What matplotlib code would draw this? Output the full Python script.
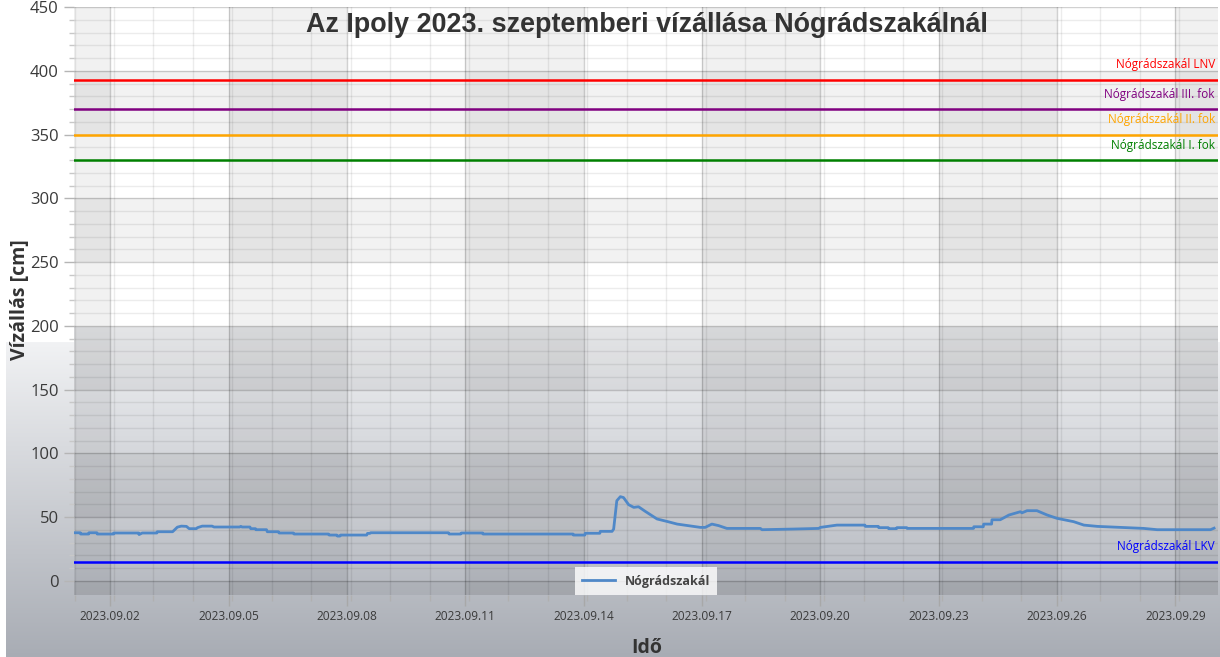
import numpy as np
import pandas as pd
import matplotlib
matplotlib.use('Agg')
import matplotlib.pyplot as plt
import matplotlib.dates as mdates
import matplotlib.transforms as mtransforms

plt.rcParams['font.family'] = ['Open Sans', 'DejaVu Sans']

# --- adatok ---
kezdet = pd.Timestamp('2023-09-01 02:00')
vege = pd.Timestamp('2023-09-30 02:00')

# napok a kezdettől, vízállás [cm]
nap = [0.00, 0.16, 0.17, 0.37, 0.38, 0.58, 0.59, 1.00, 1.01, 1.64, 1.65, 1.73,
       2.10, 2.11, 2.50, 2.62, 2.72, 2.85, 2.92, 3.10, 3.13, 3.25, 3.50, 3.55,
       4.20, 4.23, 4.26, 4.46, 4.48, 4.60, 4.61, 4.88, 4.90, 5.18, 5.20, 5.56,
       5.58, 6.45, 6.47, 6.66, 6.68, 6.74, 6.76, 7.42, 7.44, 7.50, 7.52, 9.49,
       9.51, 9.80, 9.82, 10.36, 10.37, 12.65, 12.66, 12.95, 12.96, 13.33, 13.34,
       13.64, 13.68, 13.76, 13.85, 13.93, 14.06, 14.19, 14.31, 14.48, 14.78,
       15.03, 15.29, 15.88, 16.00, 16.17, 16.34, 16.55, 17.40, 17.44, 18.24,
       18.88, 18.92, 19.34, 20.05, 20.06, 20.39, 20.40, 20.64, 20.65, 20.85,
       20.86, 21.11, 21.12, 22.80, 22.81, 23.05, 23.06, 23.26, 23.27, 23.48,
       23.70, 23.99, 24.03, 24.16, 24.41, 24.67, 24.92, 25.34, 25.60, 25.94,
       26.53, 27.12, 27.46, 28.81, 28.90]
vizallas = [37.8, 37.8, 36.8, 36.8, 37.8, 37.8, 36.8, 36.8, 37.6, 37.6, 36.4, 37.6,
            37.6, 38.6, 38.6, 42.2, 43.0, 42.8, 41.0, 41.0, 41.8, 43.0, 43.0, 42.3,
            42.3, 42.8, 42.3, 42.3, 41.0, 41.0, 40.2, 40.2, 38.6, 38.6, 37.6, 37.6,
            36.8, 36.8, 36.0, 36.0, 35.2, 35.2, 36.0, 36.0, 37.3, 37.3, 37.8, 37.8,
            36.8, 36.8, 37.6, 37.6, 36.8, 36.8, 36.0, 36.0, 37.4, 37.4, 38.9,
            38.9, 40.7, 62.9, 66.1, 65.4, 59.8, 57.7, 58.2, 54.6, 48.6,
            46.7, 44.6, 42.0, 42.0, 44.6, 43.4, 41.2, 41.2, 40.2, 40.7,
            41.2, 42.0, 43.8, 43.8, 42.8, 42.8, 41.8, 41.8, 41.0, 41.0,
            41.8, 41.8, 41.2, 41.2, 42.5, 42.5, 44.6, 44.6, 48.0, 48.0,
            51.7, 54.3, 53.4, 55.1, 55.1, 51.7, 49.1, 46.5, 43.8, 42.8,
            42.0, 41.2, 40.2, 40.2, 41.4]

szint_nevek = ['Nógrádszakál LNV', 'Nógrádszakál III. fok', 'Nógrádszakál II. fok',
               'Nógrádszakál I. fok', 'Nógrádszakál LKV']
szint_ertekek = [393, 370, 350, 330, 15]
szint_szinek = ['#ff0000', '#800080', '#ffa500', '#008000', '#0000ff']

idok = kezdet + pd.to_timedelta(nap, unit='D')

W, H = 1220, 657
fig = plt.figure(figsize=(W / 100, H / 100), dpi=100)

# háttér színátmenet (a rajzterületen kicsit feljebb kezdődik)
bg_ax = fig.add_axes([0, 0, 1, 1], zorder=-10)
img = np.ones((H, W, 3))
felso = np.array([241, 242, 244]) / 255
also = np.array([168, 172, 180]) / 255


def atmenet(y0, y1):
    t = np.clip((np.arange(y0, y1) - y0) / (H - y0), 0, 1)[:, None]
    return felso * (1 - t) + also * t


img[342:, 6:, :] = atmenet(342, H)[:, None, :]
img[327:595, 74:1218, :] = atmenet(327, 595)[:, None, :]
bg_ax.imshow(img, aspect='auto', extent=[0, 1, 0, 1], interpolation='bilinear')
bg_ax.axis('off')

ax = fig.add_axes([74 / W, 62 / H, 1144 / W, 588 / H])
ax.set_facecolor('none')
ymin, ymax = -11, 450
ax.set_xlim(kezdet, vege)
ax.set_ylim(ymin, ymax)

# váltakozó oszlop- és sorkitöltés
fo_tickek = pd.date_range('2023-09-02', '2023-09-29', freq='3D')
hatarok = [kezdet] + list(fo_tickek) + [vege]
for i in range(0, len(hatarok) - 1, 2):
    ax.axvspan(hatarok[i], hatarok[i + 1], color='black', alpha=0.055, lw=0, zorder=0)
for lo, hi in [(ymin, 0), (50, 100), (150, 200), (250, 300), (350, 400)]:
    ax.axhspan(lo, hi, color='black', alpha=0.05, lw=0, zorder=0)

ax.set_xticks(fo_tickek)
minor_x = pd.date_range('2023-09-01 02:20', '2023-09-30', freq='1D')
ax.set_xticks(minor_x, minor=True)
ax.xaxis.set_major_formatter(mdates.DateFormatter('%Y.%m.%d'))
ax.set_yticks(np.arange(0, 451, 50))
ax.set_yticks(np.arange(0, 451, 10), minor=True)

ax.grid(which='major', color='black', alpha=0.18, lw=1, zorder=1)
ax.grid(which='minor', color='black', alpha=0.075, lw=1, zorder=1)
ax.set_axisbelow(True)

for s in ax.spines.values():
    s.set_visible(False)
ax.tick_params(axis='y', which='major', length=7, width=1, color='#b5b5b5',
               labelsize=12, labelcolor='#3a3a3a', pad=4)
ax.tick_params(axis='y', which='minor', length=3.5, width=1, color='#c8c8c8')
ax.tick_params(axis='x', which='major', length=8, width=1, color='#a8a8a8',
               labelsize=8.6, labelcolor='#3a3a3a', pad=3)
ax.tick_params(axis='x', which='minor', length=4, width=1, color='#b0b0b0')

# szintvonalak
for nev, ert, szin in zip(szint_nevek, szint_ertekek, szint_szinek):
    ax.axhline(ert, color=szin, lw=1.8, zorder=3)
    trans = mtransforms.offset_copy(ax.get_yaxis_transform(), fig=fig, x=-3, y=15, units='dots')
    ax.text(1.0, ert, nev, transform=trans, ha='right', va='center',
            color=szin, fontsize=8.5, zorder=4)

ax.plot(idok, vizallas, color='#4f88c8', lw=2, label='Nógrádszakál', zorder=5)

leg = ax.legend(loc='lower center', bbox_to_anchor=(0.5, 0.0), borderaxespad=0,
                frameon=True, fancybox=False, handlelength=2.6,
                prop={'weight': 'bold', 'size': 9}, borderpad=0.6)
leg.get_frame().set_facecolor((1, 1, 1, 0.3))
leg.get_frame().set_edgecolor('none')
for txt in leg.get_texts():
    txt.set_color('#444444')

fig.text(647 / W, 1 - 25 / H, 'Az Ipoly 2023. szeptemberi vízállása Nógrádszakálnál',
         ha='center', va='center', fontsize=19.4, fontweight='bold',
         family=['Liberation Sans', 'DejaVu Sans'], color='#333333')
fig.text(20 / W, 1 - 300 / H, 'Vízállás [cm]', rotation=90, ha='center', va='center',
         fontsize=14, fontweight='bold', color='#333333')
fig.text(647 / W, 1 - 648 / H, 'Idő', ha='center', va='center',
         fontsize=14, fontweight='bold', color='#333333')

fig.savefig('out.png', dpi=100)
